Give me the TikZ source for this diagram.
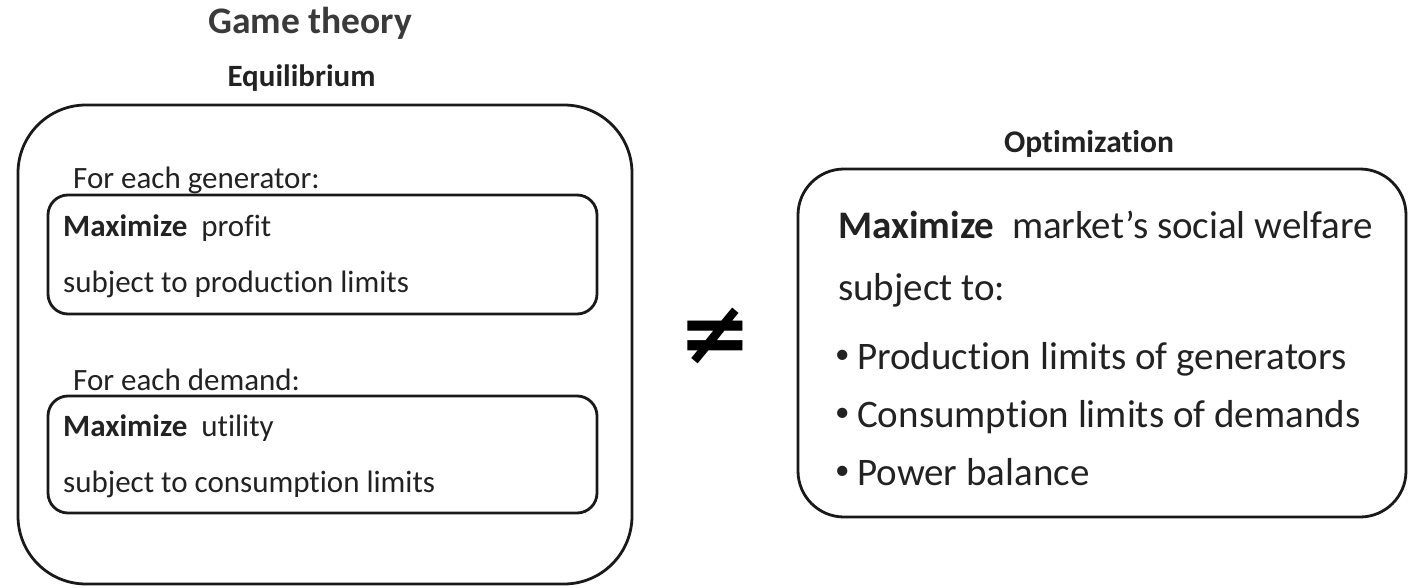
\documentclass[tikz,border=0pt]{standalone}
\usepackage{fontspec}
\setmainfont{Carlito}[Ligatures=NoCommon]
\newfontfamily\symfont{DejaVu Sans}
\definecolor{txt}{HTML}{222222}
\definecolor{ttl}{HTML}{3A3A3A}
\newcommand{\blt}{\makebox[22pt][l]{\raisebox{6pt}{\fontsize{29}{29}\selectfont •}}}
\tikzset{
  frame/.style={draw=black!90, line width=2.8pt, rounded corners=#1},
  lbl/.style={anchor=base west, inner sep=0pt, text=txt, font=\fontsize{31}{31}\selectfont},
  rlbl/.style={anchor=base west, inner sep=0pt, text=txt, font=\fontsize{39}{39}\selectfont},
  head/.style={anchor=base, inner sep=0pt, text=txt, font=\fontsize{31}{31}\selectfont\bfseries},
}
\begin{document}
\begin{tikzpicture}[x=1pt,y=-1pt]
\useasboundingbox (0,0) rectangle (1415,588);
% titles
\node[anchor=base, inner sep=0pt, text=ttl, font=\fontsize{37.5}{37.5}\selectfont\bfseries] (game) at (310,34) {Game theory};
\node[head] (equi) at (301.5,87) {Equilibrium};
\node[head, font=\fontsize{31.5}{31.5}\selectfont\bfseries] (opti) at (1089,153) {Optimization};
% left boxes
\draw[frame=68pt] (18,105) rectangle (632,584);
\node[lbl] (gen) at (73,189) {For each generator:};
\draw[frame=20pt] (48,195) rectangle (597,314);
\node[lbl] (gmax) at (63,236) {\textbf{Maximize}\ \ profit};
\node[lbl] (gsub) at (63,292) {subject to production limits};
\node[lbl] (dem) at (73,390) {For each demand:};
\draw[frame=20pt] (48,396) rectangle (597,513);
\node[lbl] (dmax) at (63,436) {\textbf{Maximize}\ \ utility};
\node[lbl] (dsub) at (63,492) {subject to consumption limits};
% not equal
\node[inner sep=0pt, text=black, font=\symfont\bfseries\fontsize{88}{88}\selectfont] (neq) at (715,336) {≠};
% right box
\draw[frame=46pt] (798,169) rectangle (1406,517);
\node[rlbl] (omax) at (838,238) {\textbf{Maximize}\ \ market’s social welfare};
\node[rlbl] (osub) at (838,300) {subject to:};
\node[rlbl] (o1) at (835,369) {\blt Production limits of generators};
\node[rlbl] (o2) at (835,427) {\blt Consumption limits of demands};
\node[rlbl] (o3) at (835,485) {\blt Power balance};
\end{tikzpicture}
\end{document}
